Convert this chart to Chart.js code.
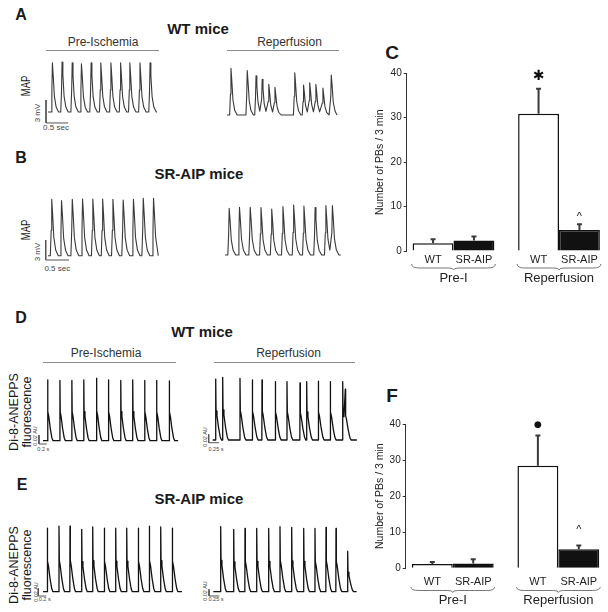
<!DOCTYPE html>
<html>
<head>
<meta charset="utf-8">
<title>Premature beats, WT vs SR-AIP</title>
<script src="https://cdn.jsdelivr.net/npm/chart.js@4.4.1/dist/chart.umd.min.js"></script>
<style>
  body { margin: 0; width: 608px; height: 612px; position: relative; overflow: hidden; background: #fff;
         font-family: "Liberation Sans", Arial, sans-serif; color: #1a1a1a; }
  canvas { position: absolute; }
  .t { position: absolute; white-space: nowrap; line-height: 1; transform: translate(-50%, -50%); }
  .rot { transform: translate(-50%, -50%) rotate(-90deg); }
  .panel { font-weight: bold; font-size: 16px; }
  .big { font-weight: bold; font-size: 19px; }
  .mice { font-weight: bold; font-size: 15px; }
  .phase { font-size: 12px; color: #333; }
  .rule { position: absolute; height: 0; border-top: 1.5px solid #8a8a8a; }
  .map { font-size: 12px; transform: translate(-50%, -50%) rotate(-90deg) scaleX(0.78); }
  .dye { font-size: 12.5px; }
  .sb { font-size: 8px; color: #444; }
  .sbt { font-size: 5.5px; color: #444; }
</style>
</head>
<body>
<!-- panel letters and titles -->
<div class="t panel" style="left:21px;top:15px">A</div>
<div class="t panel" style="left:21px;top:158px">B</div>
<div class="t panel" style="left:21px;top:318px">D</div>
<div class="t panel" style="left:22px;top:485px">E</div>
<div class="t big" style="left:392px;top:52px">C</div>
<div class="t big" style="left:392px;top:395px">F</div>

<div class="t mice" style="left:198px;top:27.5px">WT mice</div>
<div class="t mice" style="left:199px;top:172.5px">SR-AIP mice</div>
<div class="t mice" style="left:202px;top:330.5px">WT mice</div>
<div class="t mice" style="left:199px;top:498px">SR-AIP mice</div>

<div class="t phase" style="left:103px;top:41.7px">Pre-Ischemia</div>
<div class="t phase" style="left:289.5px;top:41.7px">Reperfusion</div>
<div class="rule" style="left:46px;top:50px;width:113px"></div>
<div class="rule" style="left:227px;top:50px;width:112px"></div>

<div class="t phase" style="left:106px;top:353px">Pre-Ischemia</div>
<div class="t phase" style="left:288.5px;top:353px">Reperfusion</div>
<div class="rule" style="left:43px;top:362px;width:133px"></div>
<div class="rule" style="left:214px;top:362px;width:141px"></div>

<div class="t map" style="left:25.8px;top:86px">MAP</div>
<div class="t map" style="left:25.8px;top:230px">MAP</div>

<div class="t dye rot" style="left:13.5px;top:411.5px">Di-8-ANEPPS</div>
<div class="t dye rot" style="left:27px;top:411.5px">fluorescence</div>
<div class="t dye rot" style="left:13.5px;top:565px">Di-8-ANEPPS</div>
<div class="t dye rot" style="left:27px;top:565px">fluorescence</div>

<!-- scale bar labels -->
<div class="t sb rot" style="left:38.3px;top:113px">3 mV</div>
<div class="t sb" style="left:56px;top:128px">0.5 sec</div>
<div class="t sb rot" style="left:38.3px;top:251.5px">3 mV</div>
<div class="t sb" style="left:57.3px;top:269px">0.5 sec</div>
<div class="t sbt rot" style="left:35.5px;top:436px">0.02 AU</div>
<div class="t sbt" style="left:43.3px;top:450px">0.2 s</div>
<div class="t sbt rot" style="left:206.3px;top:437px">0.02 AU</div>
<div class="t sbt" style="left:216px;top:450px">0.25 s</div>
<div class="t sbt rot" style="left:36.5px;top:592px">0.02 AU</div>
<div class="t sbt" style="left:44.7px;top:600px">0.2 s</div>
<div class="t sbt rot" style="left:206.3px;top:591px">0.02 AU</div>
<div class="t sbt" style="left:216px;top:600px">0.25 s</div>

<script>
Chart.defaults.font.family = '"Liberation Sans", Arial, sans-serif';
Chart.defaults.color = '#222';

// ---- traces: beat times (s from trace start) and peak heights ----
// MAP, mV
const aPreBeats = [0.10, 0.32, 0.55, 0.76, 0.98, 1.20, 1.43, 1.65, 1.86, 2.09, 2.32];
const aPreAmps  = [6.4, 6.5, 6.4, 6.3, 6.4, 6.4, 6.4, 6.4, 6.4, 6.4, 6.4];
const aRepBeats = [0.09, 0.46, 0.66, 0.80, 0.95, 1.09, 1.54, 1.74, 1.88, 2.02, 2.18, 2.37];
const aRepAmps  = [6.1, 5.8, 5.1, 4.65, 4.0, 3.6, 5.5, 3.9, 4.2, 4.0, 3.5, 5.2];
const bPreBeats = [0.08, 0.29, 0.52, 0.74, 0.96, 1.17, 1.39, 1.61, 1.83, 2.04, 2.26];
const bPreAmps  = [8.46, 8.25, 8.46, 8.5, 8.5, 8.5, 8.46, 8.35, 8.46, 8.6, 8.6];
const bRepBeats = [0.09, 0.31, 0.54, 0.77, 1.00, 1.24, 1.47, 1.69, 1.93, 2.16, 2.30];
const bRepAmps  = [7.0, 7.15, 7.15, 7.1, 6.9, 7.25, 7.5, 7.35, 7.1, 7.4, 7.4];
// Di-8-ANEPPS, AU
const dPreBeats = [0.12, 0.44, 0.75, 1.06, 1.39, 1.70, 2.02, 2.33, 2.64, 2.95, 3.28];
const dPreAmps  = [0.135, 0.134, 0.134, 0.135, 0.139, 0.135, 0.134, 0.135, 0.134, 0.134, 0.133];
const dRepBeats = [0.073, 0.242, 0.661, 0.959, 1.194, 1.516, 1.799, 2.114, 2.276, 2.557, 2.847, 3.148, 3.211];
const dRepAmps  = [0.146, 0.150, 0.148, 0.144, 0.144, 0.140, 0.140, 0.137, 0.140, 0.141, 0.140, 0.140, 0.122];
const ePreBeats = [0.108, 0.40, 0.675, 0.968, 1.243, 1.533, 1.818, 2.093, 2.383, 2.658, 2.943, 3.233];
const ePreAmps  = [0.165, 0.17, 0.17, 0.162, 0.168, 0.165, 0.165, 0.165, 0.165, 0.17, 0.168, 0.165];
const eRepBeats = [0.179, 0.494, 0.768, 1.051, 1.341, 1.615, 1.898, 2.189, 2.462, 2.729, 2.971, 3.254];
const eRepAmps  = [0.194, 0.186, 0.189, 0.189, 0.189, 0.194, 0.192, 0.189, 0.189, 0.192, 0.189, 0.121];

// one beat: [time offset s, fraction of peak]
const MAP_SHAPE = [[-0.03, 0], [-0.012, 0.45], [0, 1], [0.018, 0.75], [0.045, 0.32], [0.085, 0.1], [0.14, 0]];
const DI8_SHAPE = [[-0.004, 0], [0, 1], [0.008, 0.48], [0.03, 0.4], [0.07, 0.2], [0.11, 0.05], [0.14, 0]];

// ---- bar charts ----
const groups = ['Pre-I', 'Reperfusion'];
const strains = ['WT', 'SR-AIP'];
const cWT = [1.75, 30.9];
const cWTErr = [0.9, 5.6];
const cAIP = [2.35, 4.75];
const cAIPErr = [0.9, 1.25];
const cMarks = [['', '\u2731'], ['', '^']];
const fWT = [1.2, 28.4];
const fWTErr = [0.55, 8.4];
const fAIP = [1.3, 5.25];
const fAIPErr = [1.2, 1.1];
const fMarks = [['', '\u25CF'], ['', '^']];

// build line points from beats; a beat cut short by the next one hands over without a drop
function buildTrace(beats, amps, end, shape) {
  const pts = [{ x: 0, y: 0 }];
  let cut = false;
  beats.forEach((t, i) => {
    const next = i + 1 < beats.length ? beats[i + 1] + shape[0][0] : end;
    shape.forEach(([dt, f], k) => {
      if (cut && k === 0) return;
      if (t + dt < next) pts.push({ x: t + dt, y: f * amps[i] });
    });
    cut = t + shape[shape.length - 1][0] >= next;
  });
  pts.push({ x: end, y: 0 });
  return pts;
}

function traceChart(box, beats, amps, end, shape, style, bar) {
  const c = document.createElement('canvas');
  c.width = box.w; c.height = box.h;
  c.style.left = box.left + 'px'; c.style.top = box.top + 'px';
  document.body.appendChild(c);
  const datasets = [{ data: buildTrace(beats, amps, end, shape), borderColor: style.color, borderWidth: style.width }];
  if (bar) {
    datasets.push({ data: [{ x: bar.x, y: bar.y + bar.v }, { x: bar.x, y: bar.y }, { x: bar.x + bar.h, y: bar.y }],
                    borderColor: '#555', borderWidth: 1 });
  }
  new Chart(c, {
    type: 'line',
    data: { datasets },
    options: {
      animation: false, responsive: false,
      layout: { padding: 0 },
      elements: { point: { radius: 0 }, line: { tension: 0, borderJoinStyle: 'round' } },
      datasets: { line: { clip: false } },
      plugins: { legend: { display: false }, tooltip: { enabled: false } },
      scales: {
        x: { type: 'linear', display: false,
             min: (box.left - box.x0) / box.pxs, max: (box.left + box.w - box.x0) / box.pxs },
        y: { display: false,
             min: (box.y0 - box.top - box.h) / box.pxu, max: (box.y0 - box.top) / box.pxu }
      }
    }
  });
}

const mapStyle = { color: '#3a3a3a', width: 1.1 };
const dyeStyle = { color: '#111', width: 1.3 };

traceChart({ left: 40, top: 56, w: 122, h: 72, x0: 48, y0: 112, pxs: 44, pxu: 7.67 },
  aPreBeats, aPreAmps, 2.48, MAP_SHAPE, mapStyle, { x: -0.045, y: -1.43, v: 3, h: 0.5 });
traceChart({ left: 222, top: 60, w: 120, h: 62, x0: 227, y0: 115, pxs: 44, pxu: 7.67 },
  aRepBeats, aRepAmps, 2.5, MAP_SHAPE, mapStyle);
traceChart({ left: 40, top: 195, w: 122, h: 70, x0: 48, y0: 255.7, pxs: 46.7, pxu: 6.67 },
  bPreBeats, bPreAmps, 2.36, MAP_SHAPE, mapStyle, { x: -0.049, y: -0.645, v: 3, h: 0.5 });
traceChart({ left: 220, top: 200, w: 124, h: 62, x0: 225, y0: 255, pxs: 46.7, pxu: 6.67 },
  bRepBeats, bRepAmps, 2.48, MAP_SHAPE, mapStyle);
traceChart({ left: 34, top: 372, w: 148, h: 78, x0: 43, y0: 440.7, pxs: 38.5, pxu: 450 },
  dPreBeats, dPreAmps, 3.51, DI8_SHAPE, dyeStyle, { x: -0.104, y: -0.0073, v: 0.02, h: 0.2 });
traceChart({ left: 204, top: 372, w: 156, h: 76, x0: 212.7, y0: 440, pxs: 41.3, pxu: 417 },
  dRepBeats, dRepAmps, 3.49, DI8_SHAPE, dyeStyle, { x: -0.097, y: -0.0065, v: 0.02, h: 0.25 });
traceChart({ left: 34, top: 520, w: 152, h: 80, x0: 43, y0: 591.7, pxs: 40, pxu: 385 },
  ePreBeats, ePreAmps, 3.475, DI8_SHAPE, dyeStyle, { x: -0.118, y: -0.0112, v: 0.02, h: 0.2 });
traceChart({ left: 204, top: 520, w: 156, h: 80, x0: 213.3, y0: 591.7, pxs: 41.3, pxu: 335 },
  eRepBeats, eRepAmps, 3.47, DI8_SHAPE, dyeStyle, { x: -0.104, y: -0.0128, v: 0.02, h: 0.25 });

// curly bracket under each group
function brace(ctx, x1, x2, y, h) {
  const cx = (x1 + x2) / 2;
  ctx.beginPath();
  ctx.moveTo(x1, y);
  ctx.quadraticCurveTo(x1, y + h, x1 + 8, y + h);
  ctx.lineTo(cx - 5, y + h);
  ctx.quadraticCurveTo(cx, y + h, cx, y + h + 2);
  ctx.quadraticCurveTo(cx, y + h, cx + 5, y + h);
  ctx.lineTo(x2 - 8, y + h);
  ctx.quadraticCurveTo(x2, y + h, x2, y);
  ctx.stroke();
}

const barExtras = {
  id: 'barExtras',
  afterDatasetsDraw(chart, args, opts) {
    const ctx = chart.ctx, y = chart.scales.y, x = chart.scales.x;
    const bottom = chart.chartArea.bottom;
    ctx.save();
    ctx.textAlign = 'center';
    ctx.textBaseline = 'middle';
    chart.data.datasets.forEach((ds, di) => {
      chart.getDatasetMeta(di).data.forEach((bar, i) => {
        const top = y.getPixelForValue(ds.data[i].y + ds.err[i]);
        ctx.strokeStyle = '#3a3a3a';
        ctx.lineWidth = 2;
        ctx.beginPath();
        ctx.moveTo(bar.x, bar.y);
        ctx.lineTo(bar.x, top);
        ctx.moveTo(bar.x - 2.5, top);
        ctx.lineTo(bar.x + 2.5, top);
        ctx.stroke();
        ctx.fillStyle = '#111';
        if (ds.marks[i]) {
          ctx.font = opts.markFont[di];
          ctx.fillText(ds.marks[i], bar.x, top - opts.markGap[di]);
        }
        ctx.fillStyle = '#222';
        ctx.font = '11px "Liberation Sans", Arial, sans-serif';
        ctx.fillText(ds.label, bar.x, bottom + opts.subY);
      });
    });
    const m0 = chart.getDatasetMeta(0).data, m1 = chart.getDatasetMeta(1).data;
    ctx.strokeStyle = '#777';
    ctx.lineWidth = 1;
    groups.forEach((g, i) => {
      brace(ctx, m0[i].x - m0[i].width / 2 - 1, m1[i].x + m1[i].width / 2 + 1, bottom + opts.braceY, opts.braceH);
      ctx.font = '13px "Liberation Sans", Arial, sans-serif';
      ctx.fillStyle = '#222';
      ctx.fillText(g, x.getPixelForValue(i), bottom + opts.groupY);
    });
    ctx.restore();
  }
};

function barChart(box, wt, wtErr, aip, aipErr, marks, extra) {
  const c = document.createElement('canvas');
  c.width = box.w; c.height = box.h;
  c.style.left = box.left + 'px'; c.style.top = box.top + 'px';
  document.body.appendChild(c);
  new Chart(c, {
    type: 'bar',
    data: {
      datasets: [
        { label: strains[0], data: wt.map((v, i) => ({ x: i, y: v })), err: wtErr, marks: marks[0],
          backgroundColor: '#fff', borderColor: '#111', borderWidth: 1.5 },
        { label: strains[1], data: aip.map((v, i) => ({ x: i, y: v })), err: aipErr, marks: marks[1],
          backgroundColor: '#111', borderColor: '#111', borderWidth: 1.5 }
      ]
    },
    options: {
      animation: false, responsive: false,
      layout: { padding: { top: box.padTop, bottom: box.padBottom, left: box.padLeft, right: 4 } },
      datasets: { bar: { categoryPercentage: 0.775, barPercentage: 1 } },
      plugins: { legend: { display: false }, tooltip: { enabled: false }, barExtras: extra },
      scales: {
        x: { type: 'linear', display: false, offset: false, min: box.xmin, max: box.xmax,
             afterBuildTicks: (s) => { s.ticks = groups.map((g, i) => ({ value: i })); } },
        y: {
          min: 0, max: 40,
          ticks: { stepSize: 10, font: { size: 10 }, color: '#222', padding: 2 },
          grid: { drawOnChartArea: false, tickLength: 3, color: '#333' },
          border: { color: '#333', width: 1 },
          title: { display: true, text: 'Number of PBs / 3 min', font: { size: 10.5 }, color: '#222', padding: 0 },
          afterFit: (s) => { s.width = box.yw; }
        }
      }
    },
    plugins: [barExtras]
  });
}

barChart({ left: 360, top: 40, w: 248, h: 250, padTop: 33.3, padBottom: 39, padLeft: 14, yw: 32.7,
           xmin: -0.4436, xmax: 1.4265 },
  cWT, cWTErr, cAIP, cAIPErr, cMarks,
  { subY: 9, braceY: 13, braceH: 4, groupY: 27, markGap: [12, 7],
    markFont: ['bold 14px "DejaVu Sans"', '11px "Liberation Sans"'] });
barChart({ left: 360, top: 380, w: 248, h: 232, padTop: 44, padBottom: 43.7, padLeft: 14, yw: 31.7,
           xmin: -0.446, xmax: 1.4325 },
  fWT, fWTErr, fAIP, fAIPErr, fMarks,
  { subY: 13.4, braceY: 18.7, braceH: 3.5, groupY: 31.7, markGap: [11, 15],
    markFont: ['9px "DejaVu Sans"', '11px "Liberation Sans"'] });
</script>
</body>
</html>
